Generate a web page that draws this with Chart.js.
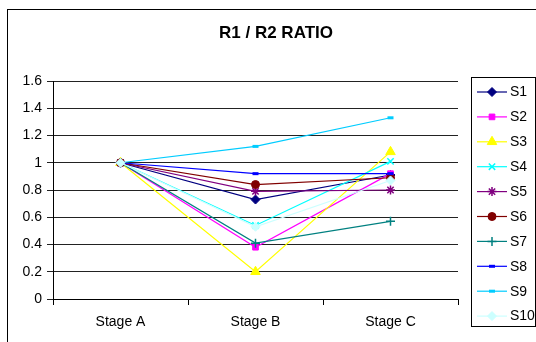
<!DOCTYPE html>
<html>
<head>
<meta charset="utf-8">
<script src="https://cdn.jsdelivr.net/npm/chart.js@4/dist/chart.umd.min.js"></script>
<style>
  html, body { margin: 0; padding: 0; background: #fff; }
  #wrap { width: 536px; height: 342px; position: relative; }
</style>
</head>
<body>
<div id="wrap"><canvas id="c" width="536" height="342"></canvas></div>
<script>
// Stages along the x axis
const categories = ['Stage A', 'Stage B', 'Stage C'];

// R1 / R2 ratio per series at each stage
const s1  = [1.00, 0.73, 0.91];
const s2  = [1.00, 0.38, 0.92];
const s3  = [1.00, 0.20, 1.08];
const s4  = [1.00, 0.54, 1.01];
const s5  = [1.00, 0.79, 0.80];
const s6  = [1.00, 0.84, 0.89];
const s7  = [1.00, 0.41, 0.57];
const s8  = [1.00, 0.92, 0.92];
const s9  = [1.00, 1.12, 1.33];
const s10 = [1.00, 0.53, 0.87];

const seriesNames = ['S1', 'S2', 'S3', 'S4', 'S5', 'S6', 'S7', 'S8', 'S9', 'S10'];
const seriesValues = [s1, s2, s3, s4, s5, s6, s7, s8, s9, s10];

// Value axis range
const yMin = 0, yMax = 1.6, yStep = 0.2;

const chartTitle = 'R1 / R2 RATIO';

// Line/marker styling per series
const styles = [
  { color: '#000080', fill: '#000080', point: 'rectRot',  r: 4.5, bw: 1 },
  { color: '#FF00FF', fill: '#FF00FF', point: 'rect',     r: 4,   bw: 1 },
  { color: '#FFFF00', fill: '#FFFF00', point: 'triangle', r: 5.5, bw: 1 },
  { color: '#00FFFF', fill: '#00FFFF', point: 'crossRot', r: 4.5, bw: 1.5 },
  { color: '#800080', fill: '#800080', point: 'star',     r: 4.5, bw: 1.5 },
  { color: '#800000', fill: '#800000', point: 'circle',   r: 4,   bw: 1 },
  { color: '#008080', fill: '#008080', point: 'cross',    r: 4.5, bw: 1.5 },
  { color: '#0000FF', fill: '#0000FF', point: 'line',     r: 3,   bw: 3 },
  { color: '#00CCFF', fill: '#00CCFF', point: 'line',     r: 3,   bw: 3 },
  { color: '#CCFFFF', fill: '#CCFFFF', point: 'rectRot',  r: 4.5, bw: 1 }
];

const FONT = "'Liberation Sans', Arial, sans-serif";

const datasets = seriesNames.map((name, i) => ({
  label: name,
  data: seriesValues[i],
  borderColor: styles[i].color,
  backgroundColor: styles[i].fill,
  borderWidth: 1.2,
  pointStyle: styles[i].point,
  pointRadius: styles[i].r,
  pointBorderWidth: styles[i].bw,
  pointBackgroundColor: styles[i].fill,
  pointBorderColor: styles[i].color,
  tension: 0,
  order: seriesNames.length - i
}));

// Frame, title and boxed legend (line sample + marker + name)
const decorations = {
  id: 'decorations',
  afterDraw(chart) {
    const ctx = chart.ctx;
    ctx.save();
    // outer frame
    ctx.strokeStyle = '#000';
    ctx.lineWidth = 1;
    ctx.strokeRect(7.5, 9.5, 700, 500);

    // title
    ctx.fillStyle = '#000';
    ctx.font = 'bold 17px ' + FONT;
    ctx.textAlign = 'center';
    ctx.textBaseline = 'middle';
    ctx.fillText(chartTitle, 276, 33);

    // legend box
    const lx = 471.5, ly = 77.5, lw = 64, lh = 249;
    ctx.fillStyle = '#fff';
    ctx.fillRect(lx, ly, lw, lh);
    ctx.strokeStyle = '#000';
    ctx.strokeRect(lx, ly, lw, lh);

    const rowH = 24.9;
    chart.data.datasets.forEach((ds, i) => {
      const y = 92 + i * rowH;
      ctx.strokeStyle = ds.borderColor;
      ctx.lineWidth = 1.2;
      ctx.beginPath();
      ctx.moveTo(477, y);
      ctx.lineTo(507, y);
      ctx.stroke();
      if (Chart.helpers && Chart.helpers.drawPoint) {
        ctx.fillStyle = ds.pointBackgroundColor;
        ctx.strokeStyle = ds.pointBorderColor;
        ctx.lineWidth = ds.pointBorderWidth;
        Chart.helpers.drawPoint(ctx, {
          pointStyle: ds.pointStyle,
          radius: ds.pointRadius,
          rotation: 0,
          borderWidth: ds.pointBorderWidth
        }, 492, y);
      }
      ctx.fillStyle = '#000';
      ctx.font = '14px ' + FONT;
      ctx.textAlign = 'left';
      ctx.textBaseline = 'middle';
      ctx.fillText(ds.label, 510, y + 0.5);
    });
    ctx.restore();
  }
};

new Chart(document.getElementById('c'), {
  type: 'line',
  data: { labels: categories, datasets },
  plugins: [decorations],
  options: {
    responsive: false,
    animation: false,
    devicePixelRatio: 1,
    layout: { padding: { top: 81, right: 78, left: 0, bottom: 0 } },
    plugins: {
      legend: { display: false },
      title: { display: false },
      tooltip: { enabled: false }
    },
    scales: {
      x: {
        offset: true,
        grid: {
          offset: true,
          drawOnChartArea: false,
          drawTicks: true,
          tickLength: 6,
          color: '#000'
        },
        border: { color: '#000', width: 1 },
        ticks: {
          color: '#000',
          font: { family: FONT, size: 14 },
          padding: 9,
          maxRotation: 0
        },
        afterFit(scale) { scale.height = 43; }
      },
      y: {
        min: yMin,
        max: yMax,
        grid: {
          color: '#222',
          lineWidth: 1,
          drawTicks: true,
          tickLength: 6
        },
        border: { color: '#000', width: 1 },
        ticks: {
          stepSize: yStep,
          color: '#000',
          font: { family: FONT, size: 14 },
          padding: 5,
          callback: (v) => String(Number(Number(v).toFixed(1)))
        },
        afterFit(scale) { scale.width = 53; }
      }
    }
  }
});
</script>
</body>
</html>
